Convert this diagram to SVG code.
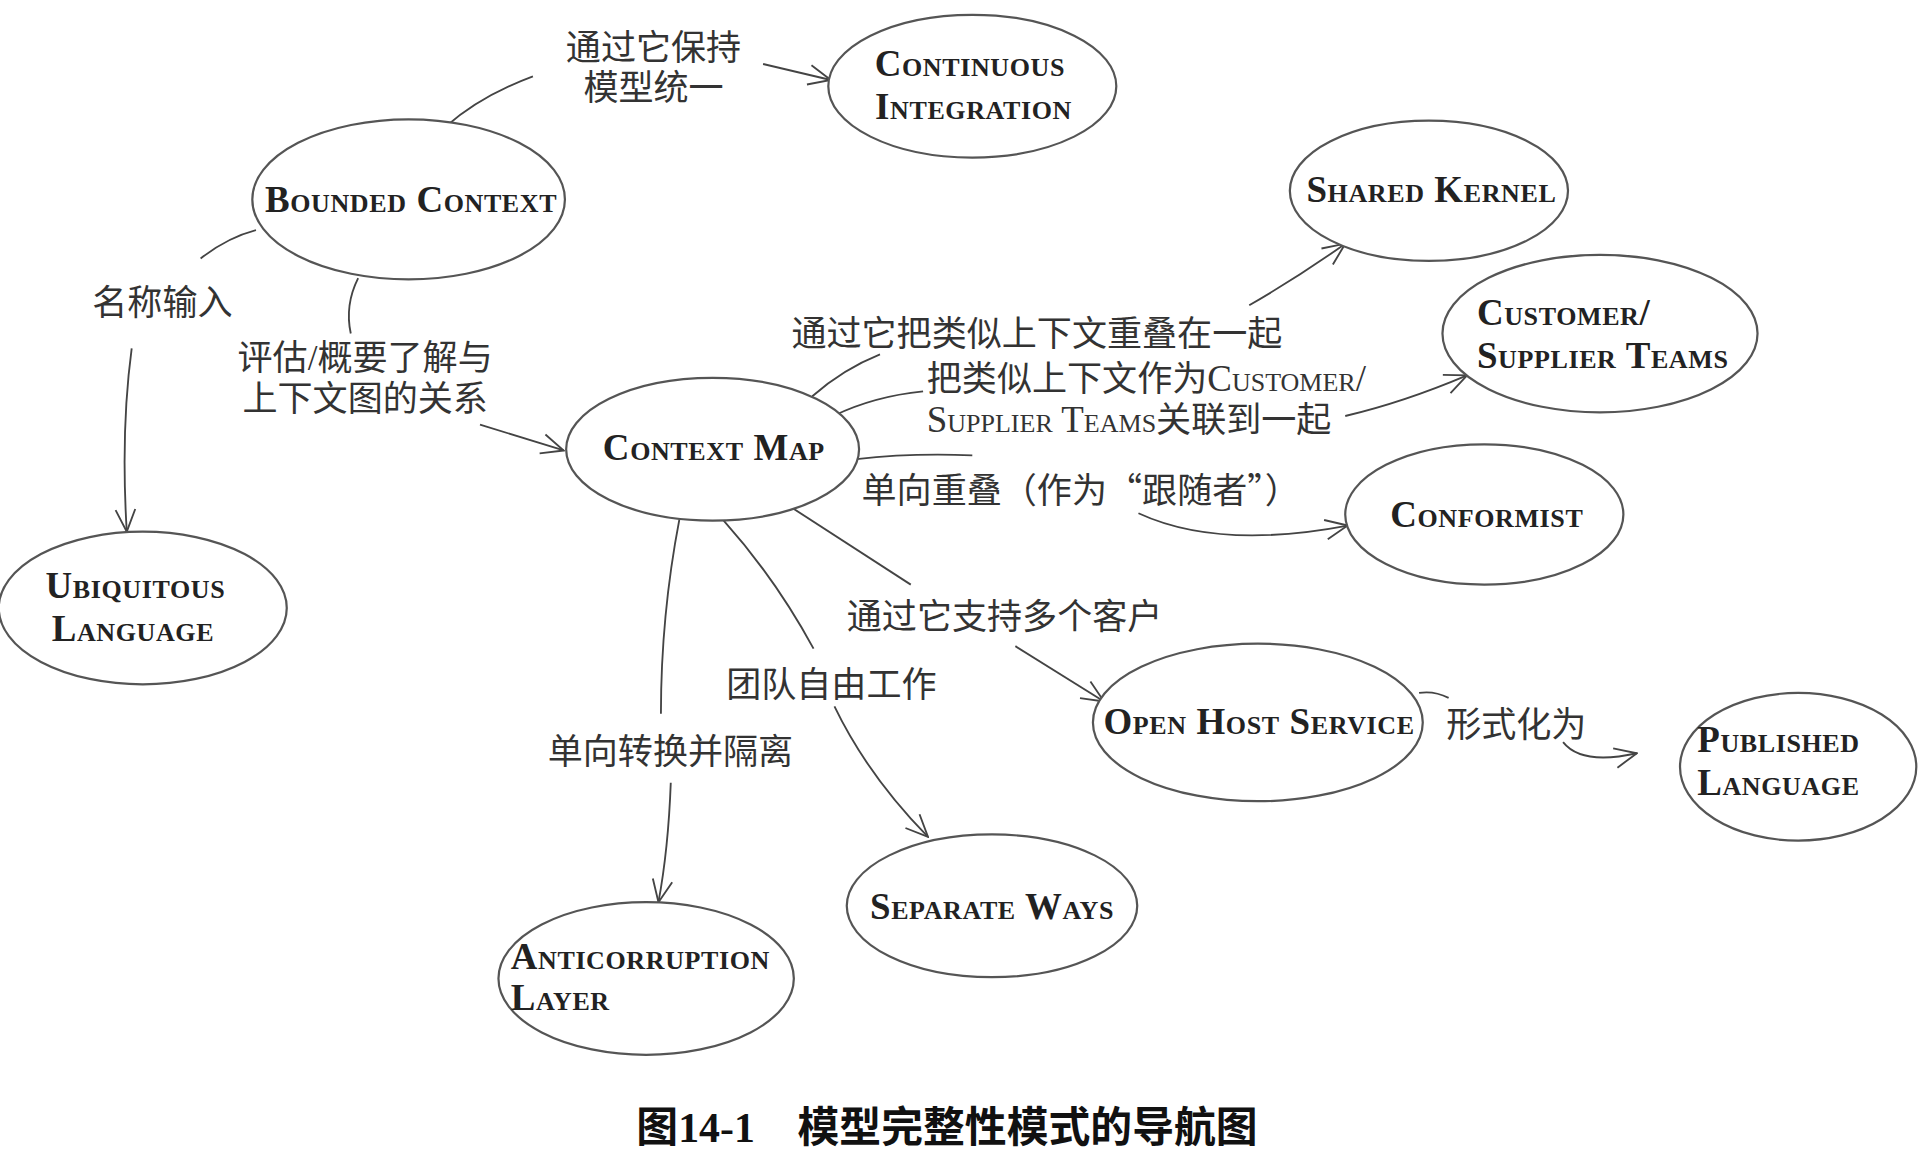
<svg xmlns="http://www.w3.org/2000/svg" width="1920" height="1162" viewBox="0 0 1920 1162">
<style>
.node ellipse{fill:#fff;stroke:#555;stroke-width:1.8}
.nt{font-family:"Liberation Serif","Times New Roman",serif;font-weight:bold;font-variant:small-caps;font-size:30px;fill:#222;letter-spacing:0.5px}
.lb{font-family:"Liberation Serif","Noto Sans CJK SC",sans-serif;font-size:28.5px;fill:#333}
.sc{font-variant:small-caps;font-size:30px}
.cj{font-family:"Noto Sans CJK SC",sans-serif}
.conn path{fill:none;stroke:#444;stroke-width:1.5}
.cap{font-family:"Liberation Serif","Noto Sans CJK SC",sans-serif;font-weight:bold;font-size:34px;fill:#111}
</style>
<defs>
<marker id="arr" viewBox="0 0 20 20" refX="19" refY="10" markerWidth="20" markerHeight="20" markerUnits="userSpaceOnUse" orient="auto">
<path d="M1,2 L19,10 L1,18" fill="none" stroke="#444" stroke-width="1.5"/>
</marker>
</defs>
<rect width="1920" height="1162" fill="#fff"/>
<g transform="scale(1.23077)">
<g id="connectors" class="conn">
<path d="M362,103 Q390,78 433,62"/>
<path d="M620,52 L675,65" marker-end="url(#arr)"/>
<path d="M163,210 Q185,193 208,187"/>
<path d="M107,283 Q98,350 103,432" marker-end="url(#arr)"/>
<path d="M291,226 Q280,248 285,271"/>
<path d="M390,345 L458,366" marker-end="url(#arr)"/>
<path d="M660,322 Q685,300 715,288"/>
<path d="M1015,248 Q1055,225 1093,198" marker-end="url(#arr)"/>
<path d="M677,338 Q710,322 750,318"/>
<path d="M1093,338 Q1140,327 1192,305" marker-end="url(#arr)"/>
<path d="M696,373 Q740,368 790,370"/>
<path d="M925,417 Q990,447 1095,427" marker-end="url(#arr)"/>
<path d="M638,409 L740,475"/>
<path d="M825,525 L897,570" marker-end="url(#arr)"/>
<path d="M588,423 Q630,470 661,527"/>
<path d="M678,574 Q705,630 754,680" marker-end="url(#arr)"/>
<path d="M552,422 Q537,500 537,580"/>
<path d="M545,636 Q543,690 535,733" marker-end="url(#arr)"/>
<path d="M1153,563 Q1165,561 1177,567"/>
<path d="M1270,603 Q1285,622 1330,612" marker-end="url(#arr)"/>
</g>
<g id="labels">
<text class="lb" x="531" y="49" text-anchor="middle">通过它保持</text>
<text class="lb" x="531" y="81" text-anchor="middle">模型统一</text>
<text class="lb" x="75" y="256">名称输入</text>
<text class="lb" x="193" y="301">评估/概要了解与</text>
<text class="lb" x="197" y="334">上下文图的关系</text>
<text class="lb" x="643" y="281">通过它把类似上下文重叠在一起</text>
<text class="lb" x="753" y="318">把类似上下文作为<tspan class="sc">Customer/</tspan></text>
<text class="lb" x="753" y="351"><tspan class="sc">Supplier Teams</tspan>关联到一起</text>
<text class="lb" x="700" y="409">单向重叠（作为<tspan class="cj">“</tspan>跟随者<tspan class="cj">”</tspan>）</text>
<text class="lb" x="688" y="511">通过它支持多个客户</text>
<text class="lb" x="590" y="566">团队自由工作</text>
<text class="lb" x="445" y="621">单向转换并隔离</text>
<text class="lb" x="1175" y="599">形式化为</text>
</g>
<g id="n-continuous-integration" class="node">
<ellipse cx="790" cy="70" rx="117" ry="58"/>
<text class="nt" x="788" y="62" text-anchor="middle">Continuous</text>
<text class="nt" x="791" y="97" text-anchor="middle">Integration</text>
</g>
<g id="n-bounded-context" class="node">
<ellipse cx="332" cy="162" rx="127" ry="65"/>
<text class="nt" x="334" y="172" text-anchor="middle">Bounded Context</text>
</g>
<g id="n-shared-kernel" class="node">
<ellipse cx="1161" cy="155" rx="113" ry="57"/>
<text class="nt" x="1163" y="164" text-anchor="middle">Shared Kernel</text>
</g>
<g id="n-customer-supplier" class="node">
<ellipse cx="1300" cy="271" rx="128" ry="64"/>
<text class="nt" x="1200" y="264">Customer/</text>
<text class="nt" x="1200" y="299">Supplier Teams</text>
</g>
<g id="n-context-map" class="node">
<ellipse cx="579" cy="365" rx="119" ry="58"/>
<text class="nt" x="580" y="374" text-anchor="middle">Context Map</text>
</g>
<g id="n-conformist" class="node">
<ellipse cx="1206" cy="418" rx="113" ry="57"/>
<text class="nt" x="1208" y="428" text-anchor="middle">Conformist</text>
</g>
<g id="n-ubiquitous-language" class="node">
<ellipse cx="116" cy="494" rx="117" ry="62"/>
<text class="nt" x="110" y="486" text-anchor="middle">Ubiquitous</text>
<text class="nt" x="108" y="521" text-anchor="middle">Language</text>
</g>
<g id="n-open-host-service" class="node">
<ellipse cx="1022" cy="587" rx="134" ry="64"/>
<text class="nt" x="1023" y="596" text-anchor="middle">Open Host Service</text>
</g>
<g id="n-published-language" class="node">
<ellipse cx="1461" cy="623" rx="96" ry="60"/>
<text class="nt" x="1445" y="611" text-anchor="middle">Published</text>
<text class="nt" x="1445" y="646" text-anchor="middle">Language</text>
</g>
<g id="n-separate-ways" class="node">
<ellipse cx="806" cy="736" rx="118" ry="58"/>
<text class="nt" x="806" y="747" text-anchor="middle">Separate Ways</text>
</g>
<g id="n-anticorruption-layer" class="node">
<ellipse cx="525" cy="795" rx="120" ry="62"/>
<text class="nt" x="415" y="787">Anticorruption</text>
<text class="nt" x="415" y="821">Layer</text>
</g>
<g id="caption">
<text class="cap" x="517" y="928">图14-1<tspan x="648">模型完整性模式的导航图</tspan></text>
</g>
</g>
</svg>
